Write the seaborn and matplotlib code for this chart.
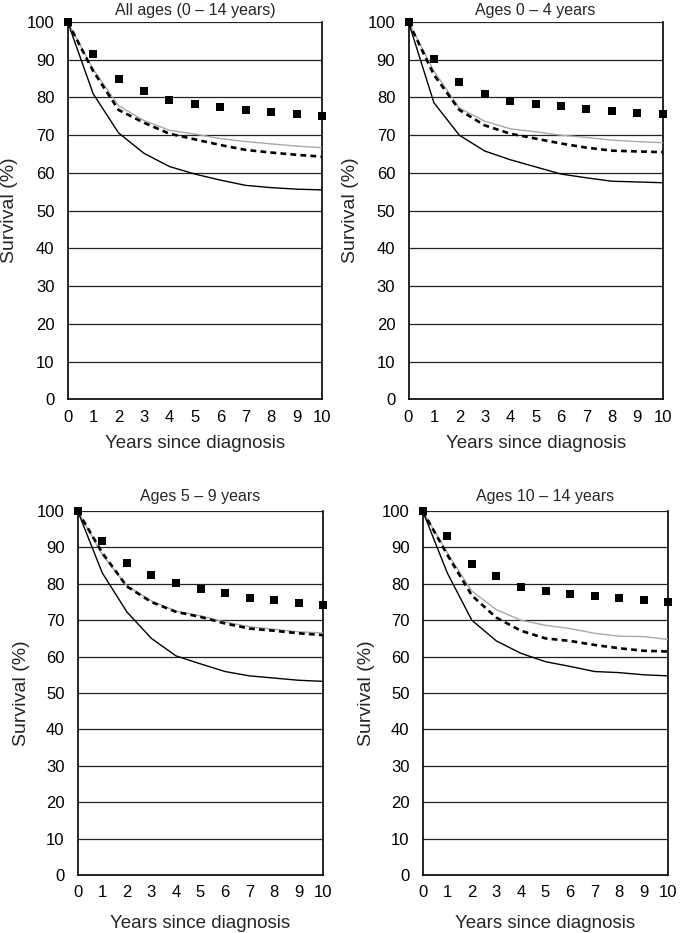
import matplotlib
matplotlib.use('Agg')
import matplotlib.pyplot as plt
import pandas as pd
import seaborn as sns

# Survival curves by age group, years 0-10 after diagnosis
years = list(range(11))

titles = ['All ages (0 \u2013 14 years)', 'Ages 0 \u2013 4 years',
          'Ages 5 \u2013 9 years', 'Ages 10 \u2013 14 years']

# black squares
squares_all = [100, 91.4, 84.9, 81.8, 79.4, 78.3, 77.6, 76.7, 76.1, 75.7, 75.2]
squares_0_4 = [100, 90.2, 84.0, 81.0, 79.0, 78.3, 77.7, 76.9, 76.4, 76.0, 75.7]
squares_5_9 = [100, 91.7, 85.7, 82.3, 80.2, 78.5, 77.5, 76.2, 75.5, 74.8, 74.3]
squares_10_14 = [100, 93.2, 85.5, 82.1, 79.1, 77.9, 77.3, 76.6, 76.1, 75.6, 74.9]

# dashed black line
dashed_all = [100, 87.0, 76.7, 73.3, 70.4, 68.9, 67.4, 66.1, 65.4, 64.8, 64.3]
dashed_0_4 = [100, 86.0, 76.7, 72.6, 70.4, 69.1, 67.8, 66.7, 65.9, 65.7, 65.5]
dashed_5_9 = [100, 88.5, 79.3, 75.0, 72.3, 70.9, 69.1, 67.7, 67.1, 66.4, 65.9]
dashed_10_14 = [100, 88.0, 76.8, 70.7, 67.1, 65.0, 64.3, 63.2, 62.3, 61.6, 61.4]

# grey line
grey_all = [100, 87.5, 77.8, 73.9, 71.3, 70.3, 69.1, 68.3, 67.7, 67.1, 66.7]
grey_0_4 = [100, 87.0, 77.2, 73.7, 71.7, 70.9, 70.0, 69.4, 68.7, 68.3, 68.0]
grey_5_9 = [100, 88.0, 79.5, 75.3, 72.5, 71.2, 69.5, 68.2, 67.5, 66.8, 66.5]
grey_10_14 = [100, 88.5, 78.0, 72.9, 70.0, 68.6, 67.7, 66.4, 65.6, 65.5, 64.7]

# thin solid black line
solid_all = [100, 81.0, 70.6, 65.2, 61.7, 59.7, 58.1, 56.7, 56.1, 55.7, 55.5]
solid_0_4 = [100, 78.6, 70.0, 65.8, 63.5, 61.6, 59.7, 58.7, 57.8, 57.6, 57.4]
solid_5_9 = [100, 83.0, 72.3, 65.0, 60.2, 58.0, 55.9, 54.7, 54.1, 53.5, 53.2]
solid_10_14 = [100, 83.0, 70.0, 64.3, 60.9, 58.6, 57.3, 55.9, 55.6, 55.0, 54.7]

panels = [
    (squares_all, dashed_all, grey_all, solid_all),
    (squares_0_4, dashed_0_4, grey_0_4, solid_0_4),
    (squares_5_9, dashed_5_9, grey_5_9, solid_5_9),
    (squares_10_14, dashed_10_14, grey_10_14, solid_10_14),
]

sns.set_style('white')
plt.rcParams['font.family'] = ['Liberation Sans', 'DejaVu Sans']

W, H = 680, 933
fig = plt.figure(figsize=(W / 100, H / 100), dpi=100)

# axes boxes in pixels: left, top, right, bottom
boxes = [(67.7, 22, 322, 399.3), (408.5, 22, 662.7, 399.3),
         (77.7, 511, 323.3, 875), (422.7, 511, 668.3, 875)]
xlab_y = [-0.095, -0.095, -0.11, -0.11]
title_pad = [5, 5, 7, 7]

for i, (box, data) in enumerate(zip(boxes, panels)):
    l, t, r, b = box
    ax = fig.add_axes([l / W, (H - b) / H, (r - l) / W, (b - t) / H])
    sq, da, gr, so = data

    sns.lineplot(x=years, y=gr, ax=ax, color='#a8a8a8', lw=1.0, zorder=3)
    sns.lineplot(x=years, y=so, ax=ax, color='black', lw=1.0, zorder=3)
    sns.lineplot(x=years, y=da, ax=ax, color='black', lw=1.9,
                 linestyle=(0, (2.2, 1.6)), zorder=4)
    sns.scatterplot(x=years, y=sq, ax=ax, marker='s', s=32, color='black',
                    edgecolor='black', linewidth=0, zorder=5, clip_on=False)

    ax.set_xlim(0, 10)
    ax.set_ylim(0, 100)
    ax.set_xticks(range(0, 11))
    ax.set_yticks(range(0, 101, 10))
    ax.yaxis.grid(True, color='#222222', lw=0.9)
    ax.set_axisbelow(True)
    for s in ['left', 'right', 'bottom']:
        ax.spines[s].set_visible(True)
        ax.spines[s].set_color('black')
        ax.spines[s].set_linewidth(1.2)
    ax.spines['top'].set_visible(False)
    ax.tick_params(axis='both', direction='out', length=3.5, width=1,
                   color='black', labelsize=12, labelcolor='black')
    ax.tick_params(axis='y', pad=6)
    ax.tick_params(axis='x', pad=4)

    ax.set_title(titles[i], fontsize=11.5, pad=title_pad[i])
    ax.set_xlabel('Years since diagnosis', fontsize=13.5)
    ax.set_ylabel('Survival (%)', fontsize=14)
    ax.xaxis.set_label_coords(0.5, xlab_y[i])
    ax.yaxis.set_label_coords(-0.195, 0.5)

fig.savefig('out.png', dpi=100)
